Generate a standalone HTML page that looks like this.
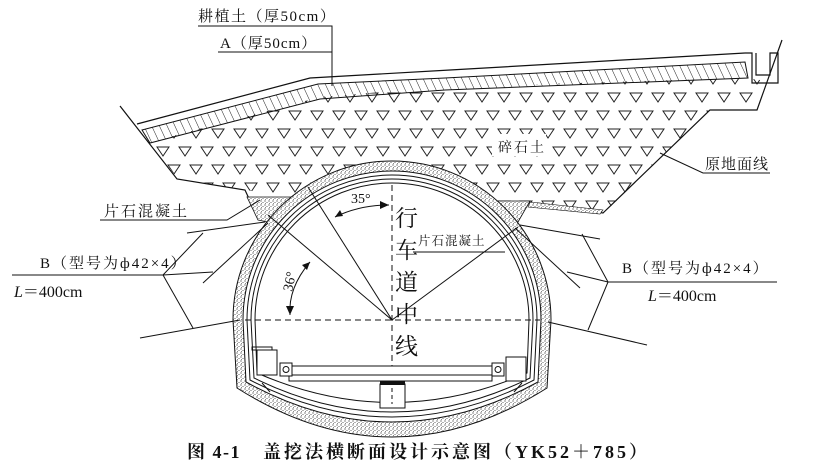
<!DOCTYPE html>
<html><head><meta charset="utf-8">
<style>
html,body{margin:0;padding:0;background:#fff;}
svg{display:block;}
text{font-family:"Liberation Serif","Noto Serif CJK SC",serif;fill:#111;}
</style></head>
<body>
<svg width="816" height="470" viewBox="0 0 816 470" xmlns="http://www.w3.org/2000/svg">
<defs>
<pattern id="tri" x="0" y="0" width="22" height="36" patternUnits="userSpaceOnUse">
<path d="M3 3 L15 3 L9 12 Z M14 21 L26 21 L20 30 Z M-8 21 L4 21 L-2 30 Z" fill="none" stroke="#222" stroke-width="1"/>
</pattern>
<pattern id="hatch" width="7" height="7" patternUnits="userSpaceOnUse" patternTransform="rotate(-25)">
<line x1="0" y1="0" x2="0" y2="7" stroke="#222" stroke-width="1"/>
</pattern>
<pattern id="dots" width="4" height="4" patternUnits="userSpaceOnUse">
<rect width="4" height="4" fill="#fff"/>
<circle cx="1" cy="1" r="0.6" fill="#333"/><circle cx="3" cy="2.5" r="0.55" fill="#444"/><circle cx="1.5" cy="3.5" r="0.45" fill="#555"/>
</pattern>
</defs>

<path d="M150 142 L320 97 L445 87 L745 78 L760 80 L757 110 L710 110 L605 212 L497 202 L290 197 L245 190 L177 178 Z" fill="url(#tri)" stroke="none"/>
<rect x="492" y="134" width="54" height="22" fill="#fff"/>
<path d="M142 130 L318 84 L445 78 L745 62 L748 78 L445 90 L320 99 L150 143 Z" fill="url(#hatch)" stroke="#111" stroke-width="1"/>
<polyline points="137,124 310,78 450,70 745,53" fill="none" stroke="#111" stroke-width="1.2"/>
<path d="M745 53 L752 53 L752 83 L778 83 L778 53 L770 53 L770 75 L756 75 L756 53" fill="none" stroke="#111" stroke-width="1.2"/>
<polyline points="120,106 177,179 245,190 258,218" fill="none" stroke="#111" stroke-width="1.2"/>
<polyline points="782,40 757,110 710,110 603,213 537,203" fill="none" stroke="#111" stroke-width="1.2"/>
<path d="M247 197 L292 197 L268 222 L258 220 Z" fill="url(#dots)" stroke="#111" stroke-width="0.8"/>
<path d="M497 201 L530 201 L518 222 L510 220 Z" fill="url(#dots)" stroke="#111" stroke-width="0.8"/>
<path d="M530 202 L603 210 L600 214 L528 207 Z" fill="url(#dots)" stroke="#111" stroke-width="0.6"/>

<path d="M233 320 A159 159 0 0 1 551 320 L547 388 Q392 486 237 388 Z" fill="url(#dots)" stroke="#111" stroke-width="1"/>
<path d="M243 320 A149 149 0 0 1 541 320 L538 382 Q392 462 246 382 Z" fill="#fff" stroke="#111" stroke-width="1"/>
<path d="M247 320 A145 145 0 0 1 537 320 L534 380 Q392 454 250 380 Z" fill="none" stroke="#111" stroke-width="1"/>
<path d="M251 320 A141 141 0 0 1 533 320 L530 378 Q392 446 254 378 Z" fill="none" stroke="#111" stroke-width="1"/>
<path d="M255 320 A137 137 0 0 1 529 320 L527 373 Q392 432 257 373 Z" fill="none" stroke="#111" stroke-width="1"/>
<line x1="262" y1="383" x2="270" y2="392" stroke="#111"/>
<line x1="522" y1="383" x2="514" y2="392" stroke="#111"/>

<g stroke="#111" stroke-width="1" fill="none">
<line x1="187" y1="233" x2="265" y2="222"/>
<line x1="203" y1="283" x2="268" y2="223"/>
<line x1="140" y1="338" x2="240" y2="320"/>
<polyline points="12,275 163,275 203,233"/>
<line x1="163" y1="275" x2="213" y2="272"/>
<line x1="163" y1="275" x2="193" y2="328"/>
<polyline points="100,220 227,220 260,200"/>
<line x1="520" y1="225" x2="600" y2="239"/>
<line x1="515" y1="228" x2="580" y2="288"/>
<line x1="548" y1="322" x2="647" y2="345"/>
<polyline points="777,282 608,282 582,234"/>
<line x1="608" y1="282" x2="567" y2="272"/>
<line x1="608" y1="282" x2="588" y2="330"/>
<polyline points="770,173 703,173 660,153"/>
<polyline points="198,26 332,26 332,86"/>
<line x1="218" y1="52" x2="332" y2="52"/>
<line x1="413" y1="252" x2="505" y2="252"/>
</g>

<line x1="392" y1="185" x2="392" y2="400" stroke="#111" stroke-dasharray="6,4"/>
<line x1="245" y1="320" x2="540" y2="320" stroke="#111" stroke-dasharray="6,4"/>
<g stroke="#111" fill="none" stroke-width="1">
<line x1="392" y1="320" x2="308" y2="187"/>
<line x1="392" y1="320" x2="268" y2="215"/>
<line x1="392" y1="320" x2="518" y2="227"/>
<path d="M335 217 Q360 205 389 205"/>
<path d="M310 262 Q288 288 290 315"/>
</g>
<path d="M389 205 L380 201 L380 209 Z" fill="#111"/>
<path d="M335 217 L340 210 L343 216 Z" fill="#111"/>
<path d="M310 262 L302 265 L307 270 Z" fill="#111"/>
<path d="M290 315 L286 306 L294 306 Z" fill="#111"/>

<g stroke="#111" fill="#fff" stroke-width="1">
<rect x="257" y="350" width="20" height="25"/>
<rect x="252" y="347" width="20" height="3" fill="none"/>
<rect x="506" y="357" width="20" height="24"/>
<rect x="290" y="366" width="213" height="9"/>
<rect x="289" y="375" width="203" height="6"/>
<rect x="280" y="363" width="12" height="13"/>
<rect x="492" y="363" width="12" height="13"/>
<rect x="380" y="384" width="25" height="24"/>
</g>
<circle cx="286" cy="369.5" r="3" fill="none" stroke="#111"/>
<circle cx="498" cy="369.5" r="3" fill="none" stroke="#111"/>
<rect x="380" y="381" width="25" height="4" fill="#111"/>
<line x1="392" y1="388" x2="392" y2="404" stroke="#111" stroke-dasharray="4,3"/>

<g>
<text x="198" y="21" font-size="15" letter-spacing="1.5">耕植土（厚50cm）</text>
<text x="220" y="48" font-size="15" letter-spacing="1">A（厚50cm）</text>
<text x="498" y="152" font-size="14" letter-spacing="2">碎石土</text>
<text x="705" y="169" font-size="15" letter-spacing="1">原地面线</text>
<text x="104" y="216" font-size="15" letter-spacing="2">片石混凝土</text>
<text x="418" y="245" font-size="12.5" letter-spacing="1">片石混凝土</text>
<text x="40" y="268" font-size="15" letter-spacing="2">B（型号为ф42×4）</text>
<text x="14" y="297" font-size="16"><tspan font-style="italic">L</tspan>＝400cm</text>
<text x="622" y="273" font-size="15" letter-spacing="2">B（型号为ф42×4）</text>
<text x="648" y="301" font-size="16"><tspan font-style="italic">L</tspan>＝400cm</text>
<text x="351" y="203" font-size="14">35°</text>
<text x="0" y="0" font-size="14" transform="translate(292,292) rotate(-78)">36°</text>
<text x="395" y="226" font-size="23">行</text>
<text x="395" y="258" font-size="23">车</text>
<text x="395" y="290" font-size="23">道</text>
<text x="395" y="322" font-size="23">中</text>
<text x="395" y="354" font-size="23">线</text>
<text x="187" y="458" font-size="18" font-weight="bold" letter-spacing="1.5" font-family="'Liberation Sans','Noto Sans CJK SC',sans-serif">图 4-1<tspan dx="22" letter-spacing="3">盖挖法横断面设计示意图（YK52＋785）</tspan></text>
</g>
</svg>
</body></html>
